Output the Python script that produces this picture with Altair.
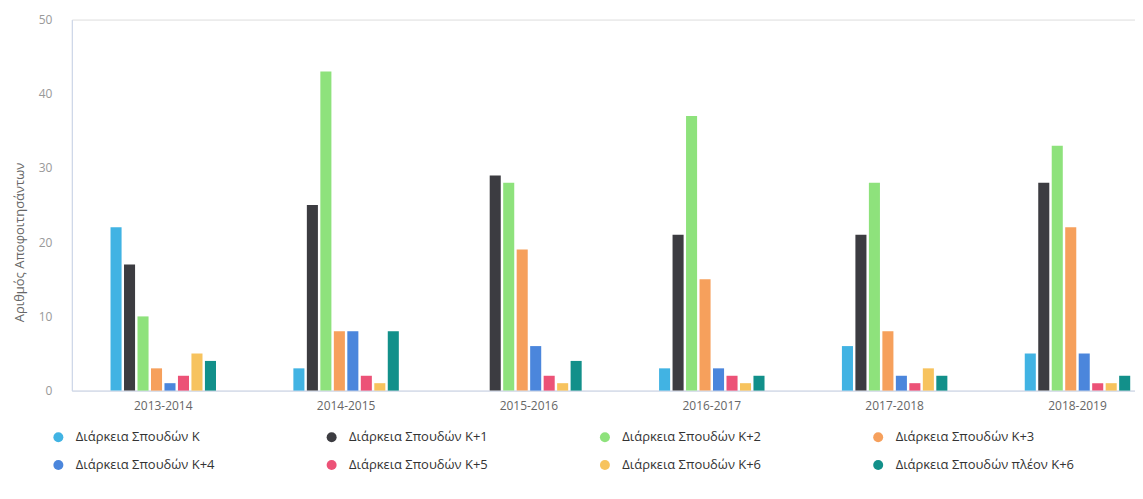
import altair as alt
import pandas as pd

years = ["2013-2014", "2014-2015", "2015-2016", "2016-2017", "2017-2018", "2018-2019"]
series = [
    "Διάρκεια Σπουδών K",
    "Διάρκεια Σπουδών K+1",
    "Διάρκεια Σπουδών K+2",
    "Διάρκεια Σπουδών K+3",
    "Διάρκεια Σπουδών K+4",
    "Διάρκεια Σπουδών K+5",
    "Διάρκεια Σπουδών K+6",
    "Διάρκεια Σπουδών πλέον K+6",
]
colors = ["#41b3e3", "#3c3c41", "#8ee27c", "#f6a05c", "#4b86dc", "#ec5277", "#f7c35e", "#12908a"]

v_k = [22, 3, 0, 3, 6, 5]
v_k1 = [17, 25, 29, 21, 21, 28]
v_k2 = [10, 43, 28, 37, 28, 33]
v_k3 = [3, 8, 19, 15, 8, 22]
v_k4 = [1, 8, 6, 3, 2, 5]
v_k5 = [2, 2, 2, 2, 1, 1]
v_k6 = [5, 1, 1, 1, 3, 1]
v_more = [4, 8, 4, 2, 2, 2]
all_values = [v_k, v_k1, v_k2, v_k3, v_k4, v_k5, v_k6, v_more]

rows = []
for s, vals in zip(series, all_values):
    for y, v in zip(years, vals):
        rows.append({"year": y, "series": s, "value": v})
df = pd.DataFrame(rows)

FONT = "Open Sans"

chart = alt.Chart(df).mark_bar().encode(
    x=alt.X(
        "year:N",
        sort=years,
        scale=alt.Scale(range=[0, 1100], paddingInner=0.41, paddingOuter=0.205),
        axis=alt.Axis(
            title=None, labelAngle=0, ticks=False, tickSize=0, labelPadding=10,
            labelFont=FONT, labelFontSize=12, labelColor="#666666",
            domainColor="#ccd6eb", grid=False,
        ),
    ),
    xOffset=alt.XOffset("series:N", sort=series,
                        scale=alt.Scale(paddingInner=0.18, paddingOuter=0.09)),
    y=alt.Y(
        "value:Q",
        scale=alt.Scale(domain=[0, 50], nice=False),
        axis=alt.Axis(
            title="Αριθμός Αποφοιτησάντων", values=[0, 10, 20, 30, 40, 50],
            grid=False, ticks=False, tickSize=0, labelPadding=20,
            labelFont=FONT, labelFontSize=12, labelColor="#999999",
            domainColor="#ccd6eb",
            titleFont=FONT, titleFontSize=13, titleFontWeight="normal",
            titleColor="#666666", titleX=-52, titleY=223, titleAngle=-90,
            titleAlign="center", titleBaseline="middle",
        ),
    ),
    color=alt.Color(
        "series:N",
        scale=alt.Scale(domain=series, range=colors),
        legend=alt.Legend(
            title=None, orient="none", legendX=-20, legendY=412, direction="horizontal",
            columns=4, columnPadding=110, rowPadding=14, padding=0,
            symbolType="circle", symbolSize=100, symbolStrokeWidth=0,
            labelFont=FONT, labelFontSize=13, labelColor="#333333",
            labelOffset=11, labelLimit=300,
        ),
    ),
).properties(
    width=1066,
    height=372,
    autosize=alt.AutoSizeParams(type="none"),
    padding={"left": 64, "top": 11, "right": 0, "bottom": 85},
).configure_view(stroke=None).configure(background="white")

chart.save("out.html", embed_options={"renderer": "svg", "actions": False})
